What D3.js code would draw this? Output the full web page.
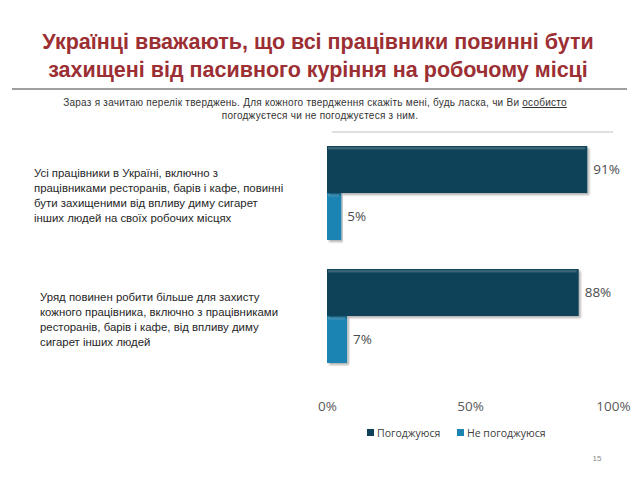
<!DOCTYPE html>
<html>
<head>
<meta charset="utf-8">
<script src="https://cdn.jsdelivr.net/npm/d3@7"></script>
<style>
  body { margin: 0; background: #fff; }
  svg { display: block; }
</style>
</head>
<body>
<svg></svg>
<script>
const width = 640;
const height = 480;

const categories = ["q1", "q2"];
const series = ["Погоджуюся", "Не погоджуюся"];
const agree = [91, 88];
const disagree = [5, 7];
const ticks = [0, 50, 100];
const statements = [
  ["Усі працівники в Україні, включно з",
   "працівниками ресторанів, барів і кафе, повинні",
   "бути захищеними від впливу диму сигарет",
   "інших людей на своїх робочих місцях"],
  ["Уряд повинен робити більше для захисту",
   "кожного працівника, включно з працівниками",
   "ресторанів, барів і кафе, від впливу диму",
   "сигарет інших людей"]
];
const colors = ["#0d4259", "#1b84b2"];

const svg = d3.select("svg")
  .attr("width", width)
  .attr("height", height);

const defs = svg.append("defs");
const shadow = defs.append("filter").attr("id", "shadow")
  .attr("x", "-5%").attr("y", "-5%").attr("width", "115%").attr("height", "120%");
shadow.append("feDropShadow")
  .attr("dx", 2).attr("dy", 2).attr("stdDeviation", 1.2)
  .attr("flood-color", "#000").attr("flood-opacity", 0.3);

// title
svg.append("text")
  .attr("x", 320)
  .attr("y", 0)
  .style("font-family", "Liberation Sans, Arial, sans-serif")
  .style("font-size", "21.5px")
  .style("font-weight", "bold")
  .style("fill", "#9b2f33")
  .style("text-anchor", "middle")
  .selectAll("tspan")
  .data(["Українці вважають, що всі працівники повинні бути",
         "захищені від пасивного куріння на робочому місці"])
  .enter().append("tspan")
    .attr("x", 318)
    .attr("y", (d, i) => 49 + i * 28)
    .text(d => d);

svg.append("line")
  .attr("x1", 12).attr("x2", 627)
  .attr("y1", 89).attr("y2", 89)
  .style("stroke", "#7f7f7f")
  .style("stroke-width", 1.5);

const sub = svg.append("text")
  .attr("x", 315).attr("y", 106)
  .style("font-family", "Liberation Sans, Arial, sans-serif")
  .style("font-size", "10px")
  .style("letter-spacing", "0.25px")
  .style("fill", "#333")
  .style("text-anchor", "middle");
sub.append("tspan").text("Зараз я зачитаю перелік тверджень. Для кожного твердження скажіть мені, будь ласка, чи Ви ");
sub.append("tspan").style("text-decoration", "underline").text("особисто");
svg.append("text")
  .attr("x", 320).attr("y", 119)
  .style("font-family", "Liberation Sans, Arial, sans-serif")
  .style("font-size", "10px")
  .style("letter-spacing", "0.25px")
  .style("fill", "#333")
  .style("text-anchor", "middle")
  .text("погоджуєтеся чи не погоджуєтеся з ним.");

// scales
const xScale = d3.scaleLinear()
  .domain([0, 100])
  .range([327, 613]);

const yScale = d3.scaleBand()
  .domain(categories)
  .range([117, 392])
  .paddingInner(0.236)
  .paddingOuter(0.236);

const ySub = d3.scaleBand()
  .domain(series)
  .range([0, yScale.bandwidth()]);

svg.append("line")
  .attr("x1", xScale(0) + 5).attr("x2", xScale(100))
  .attr("y1", 132).attr("y2", 132)
  .style("stroke", "#bfbfbf")
  .style("stroke-width", 1);

// bars
const rows = categories.map((c, i) => ({ cat: c, values: [agree[i], disagree[i]], text: statements[i] }));

const groups = svg.append("g")
  .selectAll("g")
  .data(rows)
  .enter().append("g")
    .attr("transform", d => `translate(0,${yScale(d.cat)})`);

// light bar first so the dark bar's shadow falls over it
[1, 0].forEach(si => {
  const g = groups.append("g");
  g.append("rect")
    .attr("x", xScale(0))
    .attr("y", ySub(series[si]))
    .attr("width", d => xScale(d.values[si]) - xScale(0))
    .attr("height", ySub.bandwidth())
    .attr("fill", colors[si])
    .attr("filter", "url(#shadow)");
  g.append("rect")
    .attr("x", xScale(0) + 1)
    .attr("y", ySub(series[si]) + 1)
    .attr("width", d => Math.max(0, xScale(d.values[si]) - xScale(0) - 3))
    .attr("height", 2.5)
    .attr("fill", "#ffffff")
    .attr("opacity", 0.18);
  g.append("text")
    .attr("x", d => xScale(d.values[si]) + 6)
    .attr("y", ySub(series[si]) + ySub.bandwidth() / 2)
    .attr("dy", "0.35em")
    .style("font-family", "Open Sans, Liberation Sans, sans-serif")
    .style("font-size", "13.5px")
    .style("fill", "#4d4d4d")
    .text(d => d.values[si] + "%");
});

// statement labels
groups.append("text")
  .style("font-family", "Liberation Sans, Arial, sans-serif")
  .style("font-size", "11.4px")
  .style("fill", "#262626")
  .each(function (d, i) {
    const x0 = i === 0 ? 34 : 40;
    const y0 = i === 0 ? 31 : 32;
    d3.select(this).selectAll("tspan")
      .data(d.text)
      .enter().append("tspan")
        .attr("x", x0)
        .attr("y", (t, j) => y0 + j * 15)
        .text(t => t);
  });

// x axis labels
const xAxis = d3.axisBottom(xScale)
  .tickValues(ticks)
  .tickSize(0)
  .tickFormat(d => d + "%");

svg.append("g")
  .attr("transform", "translate(0,398)")
  .call(xAxis)
  .call(g => g.select(".domain").remove())
  .selectAll("text")
    .style("font-family", "Open Sans, Liberation Sans, sans-serif")
    .style("font-size", "13.5px")
    .style("fill", "#595959");

// legend
const legend = svg.append("g")
  .selectAll("g")
  .data(series)
  .enter().append("g")
    .attr("transform", (d, i) => `translate(${i === 0 ? 367 : 457},433)`);

legend.append("rect")
  .attr("x", 0).attr("y", -4)
  .attr("width", 7).attr("height", 7)
  .attr("fill", (d, i) => colors[i]);

legend.append("text")
  .attr("x", 10).attr("y", 0)
  .attr("dy", "0.35em")
  .style("font-family", "Open Sans, Liberation Sans, sans-serif")
  .style("font-size", "10.5px")
  .style("fill", "#404040")
  .text(d => d);

svg.append("text")
  .attr("x", 597).attr("y", 461)
  .style("font-family", "Liberation Sans, Arial, sans-serif")
  .style("font-size", "8px")
  .style("fill", "#8c8c8c")
  .style("text-anchor", "middle")
  .text("15");
</script>
</body>
</html>
